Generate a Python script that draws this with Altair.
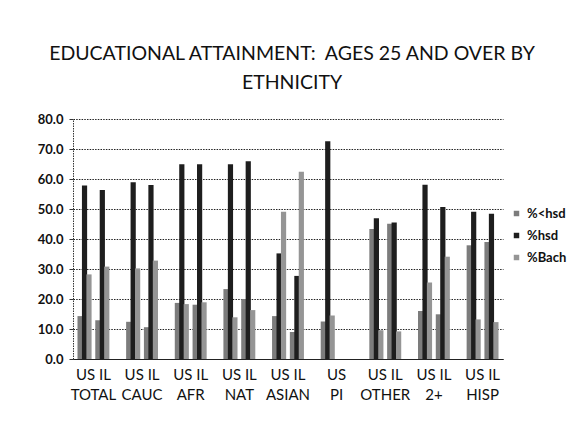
import altair as alt
import pandas as pd

groups = ["TOTAL", "CAUC", "AFR", "NAT", "ASIAN", "PI", "OTHER", "2+", "HISP"]
series = ["%<hsd", "%hsd", "%Bach"]

lt_hsd_us = [14.3, 12.4, 18.7, 23.3, 14.3, 12.5, 43.3, 16.0, 37.9]
hsd_us = [57.8, 58.9, 64.9, 64.9, 35.2, 72.6, 46.9, 58.1, 49.1]
bach_us = [28.2, 30.2, 18.3, 13.9, 49.1, 14.5, 9.6, 25.5, 13.2]

lt_hsd_il = [12.9, 10.6, 18.1, 20.0, 9.0, None, 45.1, 14.9, 39.0]
hsd_il = [56.3, 58.0, 64.9, 65.9, 27.7, None, 45.5, 50.7, 48.4]
bach_il = [30.8, 32.8, 18.9, 16.3, 62.4, None, 9.2, 34.1, 12.3]

rows = []
for region, cols in [("US", [lt_hsd_us, hsd_us, bach_us]), ("IL", [lt_hsd_il, hsd_il, bach_il])]:
    for s, vals in zip(series, cols):
        for g, v in zip(groups, vals):
            if v is None:
                continue
            rows.append({"group": g, "region": region, "series": s,
                         "slot": f"{region}|{s}", "value": v})
df = pd.DataFrame(rows)

slots = ["US|%<hsd", "US|%hsd", "US|%Bach", "gap", "IL|%<hsd", "IL|%hsd", "IL|%Bach"]
colors = ["#7c7c7c", "#1e1e1e", "#959595"]

FONT = "Lato"

chart = alt.Chart(df).mark_bar(size=5.2).encode(
    x=alt.X("group:N", sort=groups, title=None,
            scale=alt.Scale(paddingInner=0.36, paddingOuter=0.1),
            axis=alt.Axis(labelAngle=0, ticks=False, domain=True,
                          domainColor="#222", domainWidth=1,
                          labelExpr="datum.value == 'PI' ? ['US', 'PI'] : ['US IL', datum.value]",
                          labelFont=FONT, labelFontSize=15, labelColor="#111",
                          labelLineHeight=20, labelPadding=8)),
    xOffset=alt.XOffset("slot:N", scale=alt.Scale(domain=slots)),
    y=alt.Y("value:Q", title=None,
            scale=alt.Scale(domain=[0, 80], nice=False),
            axis=alt.Axis(values=[0, 10, 20, 30, 40, 50, 60, 70, 80], format=".1f",
                          grid=True, gridColor="#222", gridDash=[1.5, 1.2], gridWidth=1,
                          domainColor="#333", domainDash=[1.5, 1], tickSize=4,
                          tickColor="#333", labelFont=FONT, labelFontSize=13,
                          labelFontWeight="bold", labelColor="#111", labelPadding=6)),
    color=alt.Color("series:N", sort=series,
                    scale=alt.Scale(domain=series, range=colors),
                    legend=alt.Legend(title=None, orient="none", legendX=437, legendY=88,
                                      symbolType="square", symbolSize=30,
                                      symbolStrokeWidth=0,
                                      labelFont=FONT, labelFontSize=13,
                                      labelFontWeight="bold",
                                      labelColor="#111", rowPadding=8, labelOffset=4)),
).properties(
    width=430,
    height=240,
    title=alt.TitleParams(["EDUCATIONAL ATTAINMENT:\u00a0 AGES 25 AND OVER BY", "ETHNICITY"],
                          font=FONT, fontSize=19.5, fontWeight="normal", color="#111",
                          lineHeight=29, anchor="middle", frame="group", offset=20, dx=4),
    autosize=alt.AutoSizeParams(type="none"),
    padding={"left": 65, "top": 111, "right": 69, "bottom": 60},
).configure_view(stroke=None)

chart.save("out.html", embed_options={"renderer": "svg", "actions": False})
